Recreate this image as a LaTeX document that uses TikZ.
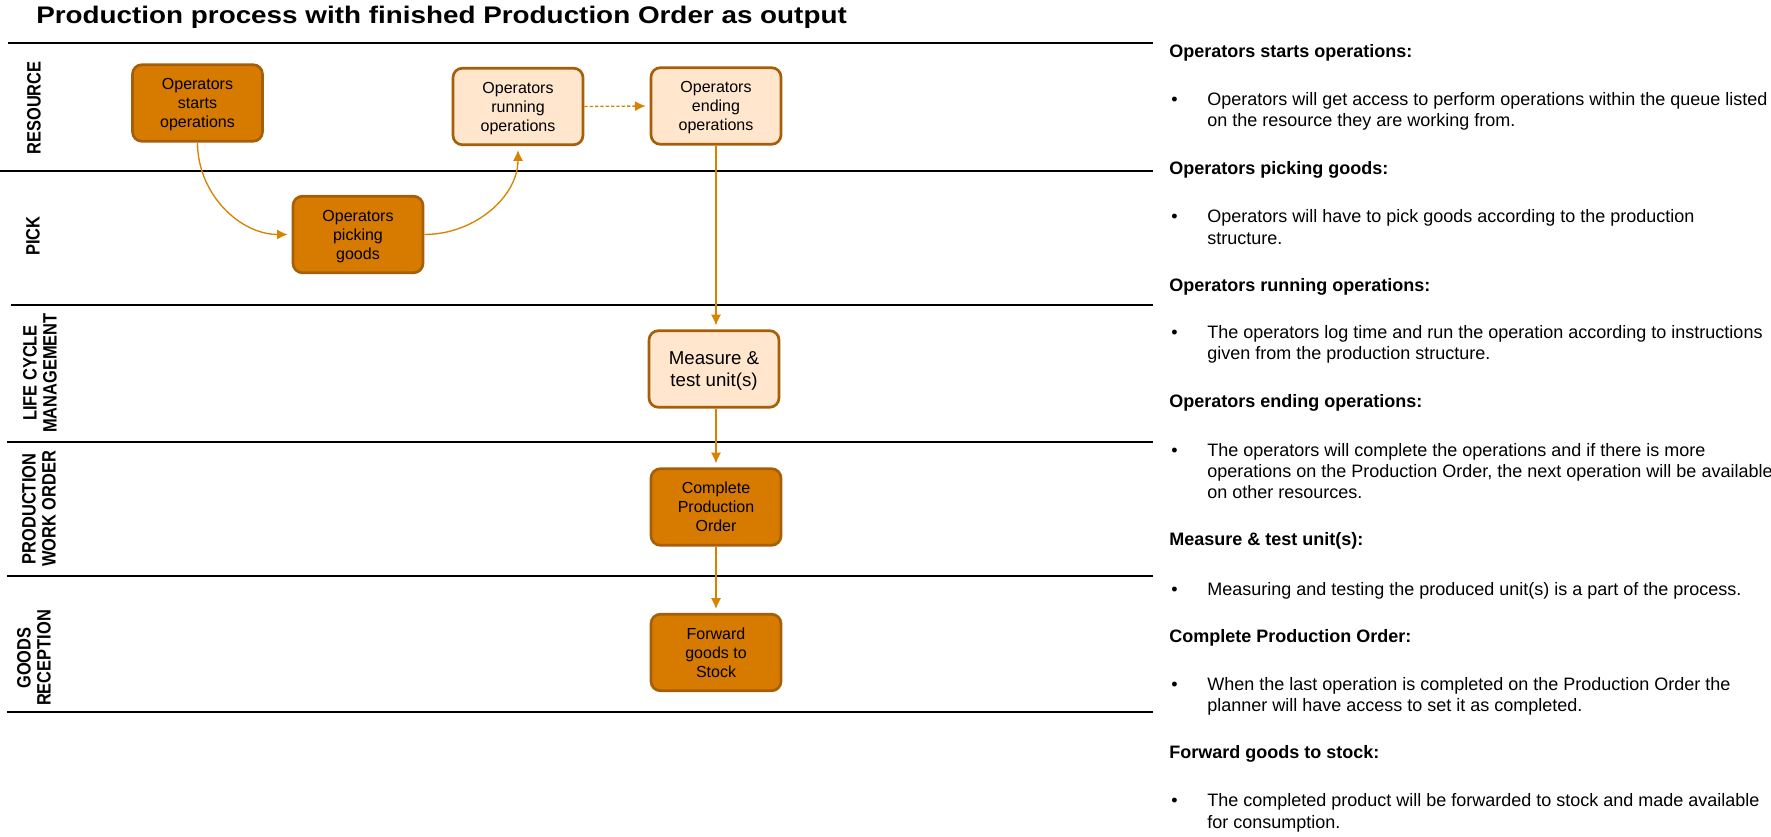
\documentclass[tikz,border=0pt]{standalone}
\usepackage{fontspec}
\setmainfont{Liberation Sans}
\newfontfamily\titlefont[FakeStretch=1.16]{Liberation Sans}
\newfontfamily\lanefont[FakeStretch=0.85]{Liberation Sans}
\usetikzlibrary{arrows.meta}

\definecolor{boxdark}{HTML}{D67B00}
\definecolor{boxlight}{HTML}{FFE6CC}
\definecolor{boxedge}{HTML}{A65E08}
\definecolor{flowcol}{HTML}{D98200}

\begin{document}
\begin{tikzpicture}[x=0.75pt, y=-0.75pt,
  opdark/.style={rectangle, rounded corners=7pt, draw=boxedge, line width=2pt,
    fill=boxdark, minimum width=97.5pt, minimum height=57.4pt, inner sep=0pt,
    text depth=0pt, align=center, font=\fontsize{12}{14.25}\selectfont},
  oplight/.style={opdark, fill=boxlight},
  flow/.style={draw=flowcol, line width=1pt, -{Latex[length=8pt,width=7.5pt]}, shorten >=3pt},
  lane/.style={line width=1.5pt},
  lanelabel/.style={rotate=90, align=center, font=\lanefont\bfseries\fontsize{14.5}{15}\selectfont},
  heading/.style={anchor=base west, inner sep=0pt, font=\bfseries\fontsize{13.5}{16}\selectfont},
  bodytext/.style={anchor=base west, inner sep=0pt, font=\fontsize{13.5}{16}\selectfont}]

\useasboundingbox (0,0) rectangle (1771,837);

% Title
\node[anchor=base west, inner sep=0pt, font=\titlefont\bfseries\fontsize{18}{20}\selectfont]
  (title) at (36,23.5) {Production process with finished Production Order as output};

% Swim lanes
\draw[lane] (8,43) -- (1153,43);
\draw[lane] (0,171) -- (1153,171);
\draw[lane] (11,305) -- (1153,305);
\draw[lane] (7,442) -- (1153,442);
\draw[lane] (7,576) -- (1153,576);
\draw[lane] (7,712) -- (1153,712);

\node[lanelabel] (resource) at (34,108) {RESOURCE};
\node[lanelabel] (pick) at (33,236) {PICK};
\node[lanelabel] (lifecycle) at (40,373) {LIFE CYCLE\\MANAGEMENT};
\node[lanelabel] (workorder) at (39,509) {PRODUCTION\\WORK ORDER};
\node[lanelabel] (goodsrec) at (34,658) {GOODS\\RECEPTION};

% Steps
\node[opdark] (starts) at (197.5,103) {Operators\\starts\\operations};
\node[opdark] (picking) at (358,234.5) {Operators\\picking\\goods};
\node[oplight] (running) at (518,106.5) {Operators\\running\\operations};
\node[oplight] (ending) at (716,106) {Operators\\ending\\operations};
\node[oplight, font=\fontsize{14}{16}\selectfont] (measure) at (714,369) {Measure \&\\test unit(s)};
\node[opdark] (complete) at (716,507) {Complete\\Production\\Order};
\node[opdark] (forward) at (716,652.5) {Forward\\goods to\\Stock};

\draw[flow] (starts.south) to[out=-90, in=180] (picking.west);
\draw[flow] (picking.east) to[out=0, in=-90] (running.south);
\draw[flow, dash pattern=on 2.5pt off 1.5pt] (running.east) -- (ending.west);
\draw[flow] (ending.south) -- (ending.south |- measure.north);
\draw[flow] (ending.south |- measure.south) -- (complete.north);
\draw[flow] (complete.south) -- (forward.north);

% Notes
\foreach \yy/\txt [count=\i] in {58/Operators starts operations:, 175/Operators picking goods:,
    291.5/Operators running operations:, 408/Operators ending operations:,
    546/Measure \& test unit(s):, 642.5/Complete Production Order:, 758/Forward goods to stock:}
  \node[heading] (head\i) at (1169,\yy) {\txt};

\foreach \yy [count=\i] in {106,222.5,339,456.5,595,690,806.5}
  \node[bodytext] (dot\i) at (1171,\yy) {\textbullet};

\foreach \yy/\txt [count=\i] in {
    106/Operators will get access to perform operations within the queue listed,
    127/on the resource they are working from.,
    222.5/Operators will have to pick goods according to the production,
    245/structure.,
    339/The operators log time and run the operation according to instructions,
    360/given from the production structure.,
    456.5/The operators will complete the operations and if there is more,
    477.5/{operations on the Production Order, the next operation will be available},
    499/on other resources.,
    595/Measuring and testing the produced unit(s) is a part of the process.,
    690/When the last operation is completed on the Production Order the,
    711.5/planner will have access to set it as completed.,
    806.5/The completed product will be forwarded to stock and made available,
    828/for consumption.}
  \node[bodytext] (line\i) at (1207,\yy) {\txt};

\end{tikzpicture}
\end{document}
